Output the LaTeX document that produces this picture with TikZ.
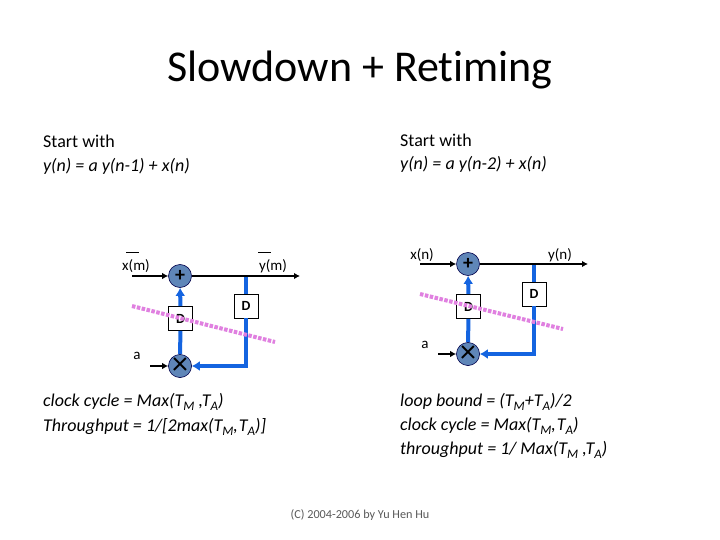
\documentclass[tikz,border=0pt]{standalone}
\usepackage{fontspec}
\setmainfont[Ligatures=NoCommon]{Carlito}
\usetikzlibrary{arrows.meta}
\definecolor{wireblue}{HTML}{1464E0}
\definecolor{opfill}{HTML}{5F86B8}
\definecolor{pinkcut}{HTML}{E080E0}
\newcommand{\sbs}[1]{\raisebox{-3.5pt}{\fontsize{13}{14}\selectfont #1}}
\tikzset{
  x=1pt,y=-1pt,
  lbl/.style={inner sep=0pt,font=\fontsize{18}{20}\selectfont,anchor=west},
  ital/.style={inner sep=0pt,font=\fontsize{18}{20}\selectfont\itshape,anchor=west},
  small/.style={inner sep=0pt,font=\fontsize{15}{16}\selectfont},
  opnode/.style={circle,draw=black!70!blue,line width=0.6pt,fill=opfill,minimum size=23pt,inner sep=0pt},
  delaybox/.style={draw=black,line width=0.6pt,fill=white,minimum size=24pt,inner sep=0pt,font=\fontsize{14}{14}\selectfont\bfseries},
  blk/.style={black,line width=1.5pt,-{Latex[length=6pt,width=6.5pt]}},
  blu/.style={wireblue,line width=4pt,-{Latex[length=8pt,width=10pt]}},
  blu2/.style={wireblue,line width=4pt},
  cutline/.style={pinkcut,line width=4pt,dash pattern=on 3.5pt off 1.5pt},
}
\begin{document}
\begin{tikzpicture}
\useasboundingbox (0,0) rectangle (720,540);
\fill[white] (0,0) rectangle (720,540);
\node[inner sep=0pt,font=\fontsize{44}{48}\selectfont] (title) at (360,70) {Slowdown + Retiming};
\node[lbl] (l1) at (43,141) {Start with};
\node[ital] (l2) at (43,166) {y(n) = a y(n-1) + x(n)};
\node[lbl] (r1) at (400,140) {Start with};
\node[ital] (r2) at (400,164) {y(n) = a y(n-2) + x(n)};
% left diagram
\node[opnode,font=\fontsize{20}{20}\selectfont\bfseries] (pl) at (180,276) {+};
\node[opnode,font=\fontsize{32}{32}\selectfont] (tl) at (180,366) {\raisebox{-2pt}{×}};
\node[delaybox] (dl) at (180.5,318.5) {D};
\node[delaybox] (dlr) at (246,306) {D};
\coordinate (jl) at (246,276);
\coordinate (cl) at (246,366);
\coordinate (inl) at (132,276);
\coordinate (outl) at (300,276);
\coordinate (al) at (150,366);
\coordinate (c1a) at (132,306);
\coordinate (c1b) at (275,342);
\draw[blu2] (tl) -- (dl);
\draw[blu] (dl) -- (pl);
\draw[blu2] (jl) -- (dlr);
\draw[blu] (dlr.south) -- (cl) -- (tl);
\draw[blk] (inl) -- (pl);
\draw[blk] (pl) -- (outl);
\draw[blk] (al) -- (tl);
\node[small] (xm) at (136,266) {x(m)};
\node[small] (ym) at (273,266) {y(m)};
\node[small] (al2) at (137,356) {a};
\coordinate (xm1) at (126,252);\coordinate (xm2) at (139,252);
\coordinate (ym1) at (258,252);\coordinate (ym2) at (271,252);
\draw[line width=0.6pt] (xm1) -- (xm2);
\draw[line width=0.6pt] (ym1) -- (ym2);
\draw[cutline] (c1a) -- (c1b);
% right diagram
\node[opnode,font=\fontsize{20}{20}\selectfont\bfseries] (pr) at (468,264) {+};
\node[opnode,font=\fontsize{32}{32}\selectfont] (tr) at (468,354) {\raisebox{-2pt}{×}};
\node[delaybox] (dr) at (468.5,306.5) {D};
\node[delaybox] (drr) at (534,294) {D};
\coordinate (jr) at (534,264);
\coordinate (cr) at (534,354);
\coordinate (inr) at (420,264);
\coordinate (outr) at (588,264);
\coordinate (ar) at (438,354);
\coordinate (c2a) at (420,294);
\coordinate (c2b) at (563,329);
\draw[blu2] (tr) -- (dr);
\draw[blu] (dr) -- (pr);
\draw[blu2] (jr) -- (drr);
\draw[blu] (drr.south) -- (cr) -- (tr);
\draw[blk] (inr) -- (pr);
\draw[blk] (pr) -- (outr);
\draw[blk] (ar) -- (tr);
\node[small] (xn) at (422,255) {x(n)};
\node[small] (yn) at (560,255) {y(n)};
\node[small] (ar2) at (425,345) {a};
\draw[cutline] (c2a) -- (c2b);
% formulas
\node[ital] (f1) at (43,402) {clock cycle = Max(T\sbs{M} ,T\sbs{A})};
\node[ital] (f2) at (43,427) {Throughput = 1/[2max(T\sbs{M},\kern1pt T\sbs{A})]};
\node[ital] (g1) at (400,402) {loop bound = (T\sbs{M}+T\sbs{A})/2};
\node[ital] (g2) at (400,426) {clock cycle = Max(T\sbs{M},\kern1pt T\sbs{A})};
\node[ital] (g3) at (400,450) {throughput = 1/ Max(T\sbs{M} ,T\sbs{A})};
\node[inner sep=0pt,font=\fontsize{12.2}{14}\selectfont,text=black!65] (cr1) at (360,515) {(C) 2004-2006 by Yu Hen Hu};
\end{tikzpicture}
\end{document}
